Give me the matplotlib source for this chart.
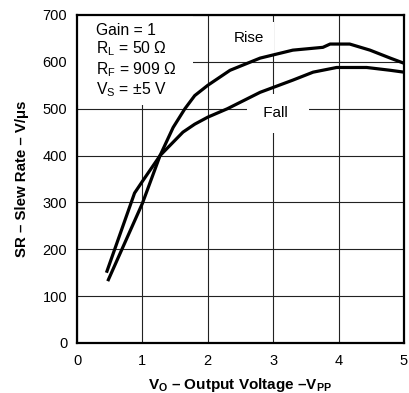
import matplotlib
matplotlib.use("Agg")
import matplotlib.pyplot as plt
from matplotlib.patches import Rectangle

plt.rcParams['font.family'] = ['Liberation Sans', 'DejaVu Sans']
plt.rcParams['mathtext.fontset'] = 'custom'
plt.rcParams['mathtext.rm'] = 'Liberation Sans'
plt.rcParams['mathtext.it'] = 'Liberation Sans:italic'
plt.rcParams['mathtext.bf'] = 'Liberation Sans:bold'

# --- data ---
rise_x = [0.47, 1.0, 1.27, 1.47, 1.65, 1.8, 2.0, 2.34, 2.8, 3.3, 3.76, 3.87, 4.17, 4.48, 4.79, 5.0]
rise_y = [132, 298, 400, 460, 500, 528, 550, 582, 608, 625, 631, 638, 638, 625, 608, 597]

fall_x = [0.45, 0.88, 1.0, 1.27, 1.62, 1.8, 2.0, 2.3, 2.8, 3.3, 3.61, 3.97, 4.43, 4.79, 5.0]
fall_y = [150, 320, 345, 400, 450, 467, 482, 500, 535, 561, 578, 588, 588, 582, 578]

x_ticks = [0, 1, 2, 3, 4, 5]
y_ticks = [0, 100, 200, 300, 400, 500, 600, 700]

fig = plt.figure(figsize=(4.09, 3.93), dpi=100)
ax = fig.add_axes([77 / 409, 50 / 393, 327 / 409, 328 / 393])

ax.set_axisbelow(True)
ax.grid(True, color='#222222', linewidth=0.8)

ax.plot(rise_x, rise_y, color='black', linewidth=2.3, zorder=3, solid_capstyle='butt')
ax.plot(fall_x, fall_y, color='black', linewidth=2.3, zorder=3, solid_capstyle='butt')

ax.set_xlim(0, 5)
ax.set_ylim(0, 700)
ax.set_xticks(x_ticks)
ax.set_yticks(y_ticks)
ax.tick_params(length=0, labelsize=10.5)
ax.tick_params(axis='x', pad=8)
ax.tick_params(axis='y', pad=7)
for s in ax.spines.values():
    s.set_linewidth(1.6)

# white area behind the condition text (hides the grid there)
ax.add_patch(Rectangle((0, 507), 1.77, 193, facecolor='white', edgecolor='none', zorder=1))
ax.text(0.29, 683,
        'Gain = 1\nR$_\\mathrm{L}$ = 50 \u03a9\nR$_\\mathrm{F}$ = 909 \u03a9\nV$_\\mathrm{S}$ = \u00b15 V',
        ha='left', va='top', fontsize=11.3, linespacing=1.12, zorder=2)

ax.text(2.63, 650, 'Rise', ha='center', va='center', fontsize=11, zorder=2,
        bbox=dict(facecolor='white', edgecolor='none', pad=7))
ax.text(3.07, 490, ' Fall  ', ha='center', va='center', fontsize=11, zorder=2,
        bbox=dict(facecolor='white', edgecolor='none', pad=9))

ax.set_xlabel('V$_\\mathbf{O}$ \u2013 Output Voltage \u2013V$_\\mathbf{PP}$',
              fontsize=11, fontweight='bold', labelpad=6)
ax.set_ylabel('SR \u2013 Slew Rate \u2013 V/\u03bcs', fontsize=10.8, fontweight='bold', labelpad=10)

fig.savefig('out.png', dpi=100)
